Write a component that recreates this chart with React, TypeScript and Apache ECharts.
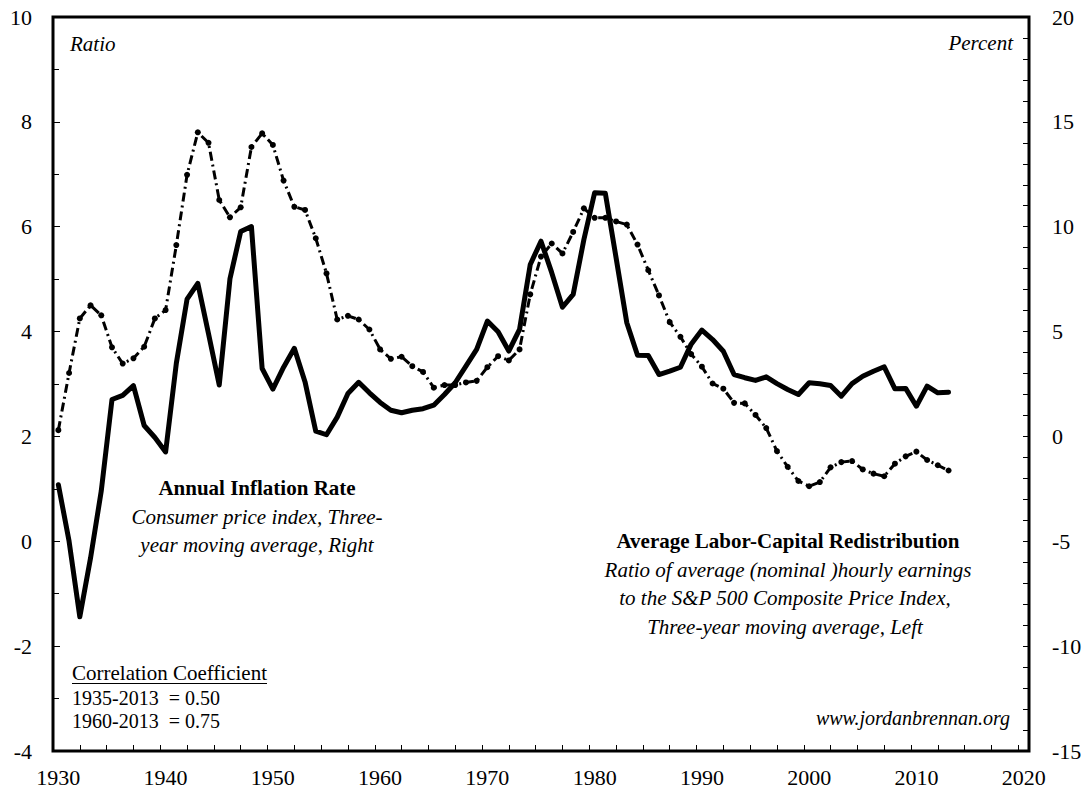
import { useEffect, useRef } from 'react';
import * as echarts from 'echarts';

// Years (x values)
const years = [
  1930, 1931, 1932, 1933, 1934, 1935, 1936, 1937, 1938, 1939,
  1940, 1941, 1942, 1943, 1944, 1945, 1946, 1947, 1948, 1949,
  1950, 1951, 1952, 1953, 1954, 1955, 1956, 1957, 1958, 1959,
  1960, 1961, 1962, 1963, 1964, 1965, 1966, 1967, 1968, 1969,
  1970, 1971, 1972, 1973, 1974, 1975, 1976, 1977, 1978, 1979,
  1980, 1981, 1982, 1983, 1984, 1985, 1986, 1987, 1988, 1989,
  1990, 1991, 1992, 1993, 1994, 1995, 1996, 1997, 1998, 1999,
  2000, 2001, 2002, 2003, 2004, 2005, 2006, 2007, 2008, 2009,
  2010, 2011, 2012, 2013,
];

// Average Labor-Capital Redistribution ratio (left axis, dashed)
const laborCapitalRatio = [
  2.12, 3.21, 4.25, 4.50, 4.31, 3.70, 3.39, 3.49, 3.71, 4.25,
  4.41, 5.65, 6.99, 7.80, 7.60, 6.51, 6.18, 6.37, 7.52, 7.78,
  7.56, 6.88, 6.38, 6.32, 5.78, 5.11, 4.23, 4.30, 4.23, 4.04,
  3.66, 3.48, 3.52, 3.34, 3.23, 2.93, 2.98, 2.98, 3.03, 3.06,
  3.32, 3.53, 3.45, 3.66, 4.71, 5.43, 5.68, 5.49, 5.90, 6.35,
  6.17, 6.17, 6.10, 6.04, 5.66, 5.17, 4.69, 4.18, 3.90, 3.57,
  3.33, 3.01, 2.91, 2.64, 2.63, 2.41, 2.16, 1.72, 1.42, 1.15,
  1.05, 1.13, 1.41, 1.51, 1.53, 1.37, 1.29, 1.24, 1.48, 1.62,
  1.71, 1.55, 1.45, 1.35,
];

// Annual inflation rate, CPI three-year moving average, percent (right axis, solid)
const inflationRate = [
  -2.3, -5.0, -8.6, -5.8, -2.6, 1.76, 1.96, 2.42, 0.52, -0.05,
  -0.74, 3.49, 6.55, 7.30, 4.9, 2.45, 7.52, 9.77, 10.01, 3.24,
  2.26, 3.30, 4.20, 2.6, 0.25, 0.08, 0.92, 2.05, 2.58, 2.08,
  1.62, 1.25, 1.13, 1.25, 1.32, 1.49, 2.00, 2.56, 3.35, 4.15,
  5.50, 4.99, 4.07, 5.10, 8.20, 9.31, 7.81, 6.16, 6.77, 9.39,
  11.62, 11.59, 8.52, 5.42, 3.87, 3.86, 2.95, 3.11, 3.30, 4.40,
  5.07, 4.62, 4.06, 2.95, 2.80, 2.67, 2.84, 2.52, 2.24, 2.00,
  2.56, 2.51, 2.43, 1.92, 2.52, 2.87, 3.11, 3.32, 2.27, 2.29,
  1.44, 2.40, 2.08, 2.11,
];

// Tick labels
const xLabelYears = [1930, 1940, 1950, 1960, 1970, 1980, 1990, 2000, 2010, 2020];

const SERIF = 'Liberation Serif';

export default function App() {
  const ref = useRef<HTMLDivElement>(null);

  useEffect(() => {
    document.body.style.margin = '0';
    document.body.style.background = '#fff';
    if (!ref.current) return;
    const chart = echarts.init(ref.current, undefined, { renderer: 'svg' });

    const xMin = 1929.5;
    const xMax = 2020.5;
    const xTicks: number[] = [];
    for (let v = xMin; v < xMax - 0.01; v += 2.5) xTicks.push(v);

    const ratioData = years.map((y, i) => [y, laborCapitalRatio[i]]);
    const inflData = years.map((y, i) => [y, inflationRate[i]]);

    const txt = (
      text: string,
      x: number,
      y: number,
      size: number,
      weight: string,
      fontStyle: string,
      align: string = 'left'
    ) => ({
      type: 'text',
      x,
      y,
      silent: true,
      style: {
        text,
        fontFamily: SERIF,
        fontSize: size,
        fontWeight: weight,
        fontStyle,
        fill: '#000',
        textAlign: align,
        textVerticalAlign: 'middle',
        verticalAlign: 'middle',
      },
    });

    const labelStyle = { color: '#000', fontFamily: SERIF, fontSize: 22 };

    chart.setOption({
      animation: false,
      backgroundColor: '#fff',
      textStyle: { fontFamily: SERIF },
      grid: {
        left: 53,
        right: 59,
        top: 17,
        bottom: 42,
        show: true,
        borderColor: '#000',
        borderWidth: 3,
        backgroundColor: 'transparent',
        containLabel: false,
      },
      xAxis: {
        type: 'value',
        min: xMin,
        max: xMax,
        axisLine: { show: false, onZero: false },
        axisTick: {
          show: true,
          inside: true,
          length: 6,
          lineStyle: { color: '#000', width: 1 },
          customValues: xTicks,
        },
        axisLabel: {
          ...labelStyle,
          customValues: xLabelYears,
          margin: 15,
          formatter: (v: number) => String(Math.round(v)),
        },
        splitLine: { show: false },
      },
      yAxis: [
        {
          type: 'value',
          position: 'left',
          min: -4,
          max: 10,
          interval: 2,
          axisLine: { show: false, onZero: false },
          axisTick: { show: true, inside: true, length: 7, lineStyle: { color: '#000', width: 1 } },
          minorTick: { show: true, splitNumber: 2, length: 6, lineStyle: { color: '#000', width: 1 } },
          axisLabel: { ...labelStyle, margin: 21 },
          splitLine: { show: false },
          minorSplitLine: { show: false },
        },
        {
          type: 'value',
          position: 'right',
          min: -15,
          max: 20,
          interval: 5,
          axisLine: { show: false, onZero: false },
          axisTick: { show: true, inside: true, length: 6, lineStyle: { color: '#000', width: 1 } },
          minorTick: { show: true, splitNumber: 5, length: 6, lineStyle: { color: '#000', width: 1 } },
          axisLabel: { ...labelStyle, margin: 23 },
          splitLine: { show: false },
          minorSplitLine: { show: false },
        },
      ],
      series: [
        {
          name: 'Average Labor-Capital Redistribution',
          type: 'line',
          yAxisIndex: 0,
          data: ratioData,
          symbol: 'circle',
          symbolSize: 6,
          showSymbol: true,
          itemStyle: { color: '#000', borderWidth: 0 },
          lineStyle: { color: '#000', width: 3, type: [9, 4, 2, 4] },
          z: 2,
        },
        {
          name: 'Annual Inflation Rate',
          type: 'line',
          yAxisIndex: 1,
          data: inflData,
          symbol: 'none',
          lineStyle: { color: '#000', width: 5, join: 'round', cap: 'round' },
          z: 3,
        },
      ],
      graphic: [
        txt('Ratio', 70, 44, 21, 'normal', 'italic', 'left'),
        txt('Percent', 1013, 43, 21, 'normal', 'italic', 'right'),
        txt('Annual Inflation Rate', 257, 488, 21, 'bold', 'normal', 'center'),
        txt('Consumer price index, Three-', 257, 517, 21, 'normal', 'italic', 'center'),
        txt('year moving average, Right', 257, 545, 21, 'normal', 'italic', 'center'),
        txt('Average Labor-Capital Redistribution', 788, 541, 21, 'bold', 'normal', 'center'),
        txt('Ratio of average (nominal )hourly earnings', 788, 570, 21, 'normal', 'italic', 'center'),
        txt('to the S&P 500 Composite Price Index,', 785, 598, 21, 'normal', 'italic', 'center'),
        txt('Three-year moving average, Left', 785, 627, 21, 'normal', 'italic', 'center'),
        txt('Correlation Coefficient', 72, 673, 21, 'normal', 'normal', 'left'),
        {
          type: 'line',
          silent: true,
          shape: { x1: 72, y1: 683.5, x2: 267, y2: 683.5 },
          style: { stroke: '#000', lineWidth: 1 },
        },
        txt('1935-2013  = 0.50', 72, 698, 20, 'normal', 'normal', 'left'),
        txt('1960-2013  = 0.75', 72, 721, 20, 'normal', 'normal', 'left'),
        txt('www.jordanbrennan.org', 1010, 718, 20, 'normal', 'italic', 'right'),
      ],
    });

    return () => {
      chart.dispose();
    };
  }, []);

  return <div ref={ref} style={{ width: 1088, height: 793 }} />;
}
